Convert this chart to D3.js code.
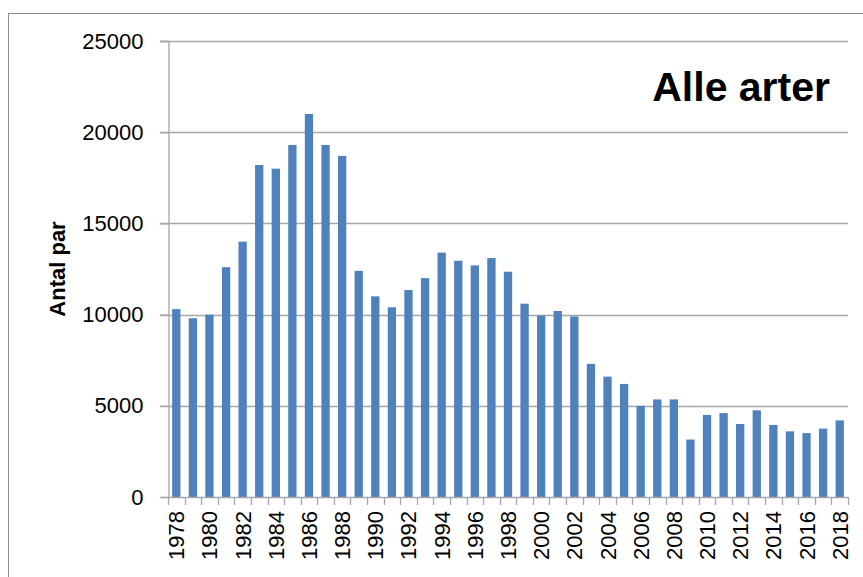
<!DOCTYPE html>
<html>
<head>
<meta charset="utf-8">
<script src="https://cdn.jsdelivr.net/npm/d3@7"></script>
<style>
  body { margin: 0; background: #fff; }
  svg { display: block; }
</style>
</head>
<body>
<div class="canvas"></div>
<script>
const years = d3.range(1978, 2019);
const pairs = [
  10300, 9800, 10000, 12600, 14000, 18200, 18000, 19300, 21000, 19300,
  18700, 12400, 11000, 10400, 11350, 12000, 13400, 12950, 12700, 13100,
  12350, 10600, 9950, 10200, 9900, 7300, 6600, 6200, 5000, 5350,
  5350, 3150, 4500, 4600, 4000, 4750, 3950, 3600, 3500, 3750,
  4200
];
const yTicks = [0, 5000, 10000, 15000, 20000, 25000];
const title = "Alle arter";
const yTitle = "Antal par";

const dims = { width: 863, height: 577 };
const plot = { left: 168, right: 848, top: 41, bottom: 497 };
const font = "'Liberation Sans', Arial, sans-serif";
const gray = "#a6a6a6";

const svg = d3
  .select(".canvas")
  .append("svg")
  .attr("width", dims.width)
  .attr("height", dims.height);

// outer chart border (only top and left are inside the picture)
svg.append("rect")
  .attr("x", 8.5)
  .attr("y", 13.5)
  .attr("width", 900)
  .attr("height", 600)
  .attr("fill", "none")
  .attr("stroke", "#8c8c8c")
  .attr("stroke-width", 1);

const x = d3
  .scaleBand()
  .domain(years)
  .range([plot.left, plot.right])
  .paddingInner(0.5)
  .paddingOuter(0.25);

const y = d3
  .scaleLinear()
  .domain([0, 25000])
  .range([plot.bottom, plot.top]);

// gridlines
svg.append("g")
  .selectAll("line")
  .data(yTicks.filter((d) => d > 0))
  .enter()
  .append("line")
  .attr("x1", plot.left - 8)
  .attr("x2", plot.right)
  .attr("y1", (d) => Math.round(y(d)) + 0.5)
  .attr("y2", (d) => Math.round(y(d)) + 0.5)
  .attr("stroke", gray)
  .attr("stroke-width", 1.3);

// bars
svg.append("g")
  .selectAll("rect")
  .data(pairs)
  .enter()
  .append("rect")
  .attr("x", (d, i) => x(years[i]))
  .attr("width", x.bandwidth())
  .attr("y", (d) => y(d))
  .attr("height", (d) => y(0) - y(d))
  .attr("fill", "#4f81bd");

// y axis
const yAxis = svg.append("g")
  .attr("transform", `translate(${plot.left + 0.5},0)`)
  .call(d3.axisLeft(y).tickValues(yTicks).tickSize(8).tickPadding(17).tickFormat(d3.format("d")));
yAxis.select(".domain").attr("stroke", gray).attr("stroke-width", 1.3);
yAxis.selectAll(".tick line").attr("stroke", gray).attr("stroke-width", 1.3);
yAxis.selectAll("text")
  .attr("font-family", font)
  .attr("font-size", 22)
  .attr("fill", "#000");

// x axis line + ticks at category boundaries
const step = x.step();
const bounds = d3.range(years.length + 1).map((i) => plot.left + i * step);
const xAxis = svg.append("g");
xAxis.append("line")
  .attr("x1", plot.left)
  .attr("x2", plot.right)
  .attr("y1", plot.bottom + 0.5)
  .attr("y2", plot.bottom + 0.5)
  .attr("stroke", gray)
  .attr("stroke-width", 1.3);
xAxis.selectAll(".tk")
  .data(bounds)
  .enter()
  .append("line")
  .attr("class", "tk")
  .attr("x1", (d) => Math.round(d) + 0.5)
  .attr("x2", (d) => Math.round(d) + 0.5)
  .attr("y1", plot.bottom)
  .attr("y2", plot.bottom + 8)
  .attr("stroke", gray)
  .attr("stroke-width", 1.3);
xAxis.selectAll("text")
  .data(years.filter((d) => d % 2 === 0))
  .enter()
  .append("text")
  .attr("transform", (d) => `translate(${x(d) + x.bandwidth() / 2 + 8},${plot.bottom + 14}) rotate(-90)`)
  .attr("text-anchor", "end")
  .attr("font-family", font)
  .attr("font-size", 22)
  .text((d) => d);

// y axis title
svg.append("text")
  .attr("transform", `translate(65,${(plot.top + plot.bottom) / 2}) rotate(-90)`)
  .attr("text-anchor", "middle")
  .attr("font-family", font)
  .attr("font-weight", "bold")
  .attr("font-size", 22)
  .text(yTitle);

// chart title
svg.append("text")
  .attr("x", 830)
  .attr("y", 101)
  .attr("text-anchor", "end")
  .attr("font-family", font)
  .attr("font-weight", "bold")
  .attr("font-size", 41)
  .text(title);
</script>
</body>
</html>
